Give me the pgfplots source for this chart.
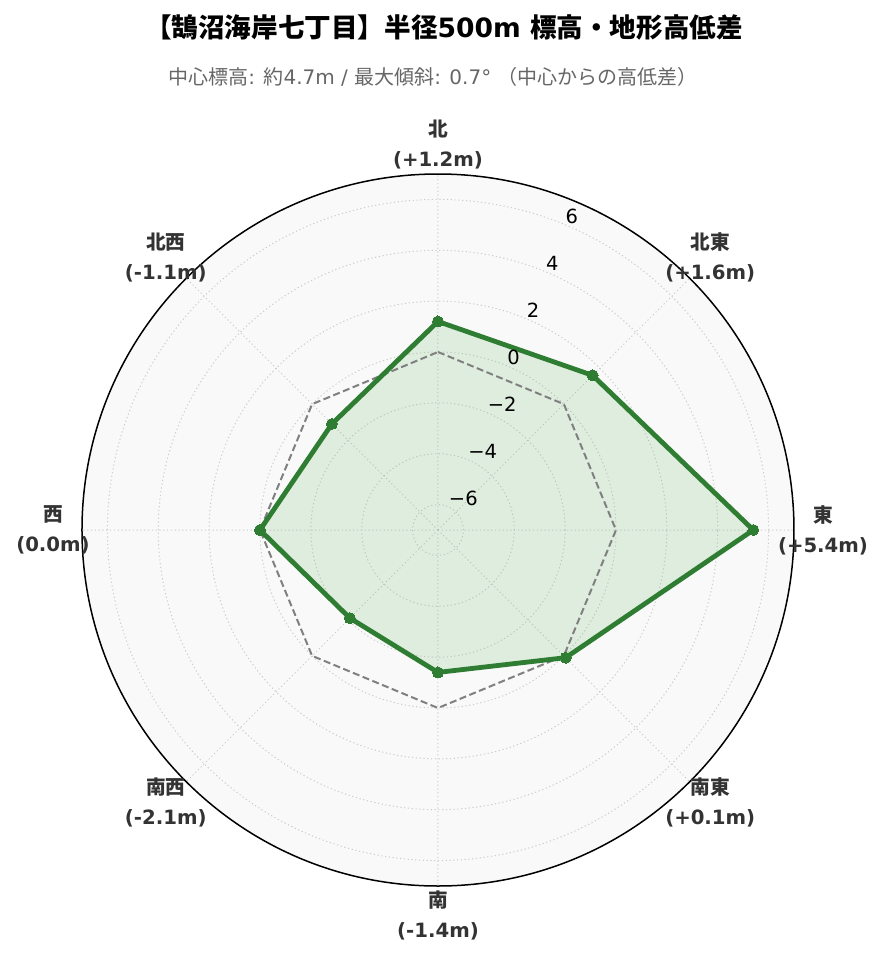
\documentclass[border=0pt]{standalone}
\usepackage{fontspec}
\setmainfont{DejaVu Sans}
\newfontfamily\cjk{Noto Sans CJK JP}
\usepackage{pgfplots}
\pgfplotsset{compat=1.18}
\usepgfplotslibrary{polar}
\definecolor{grn}{HTML}{2E7D32}
\definecolor{fillg}{HTML}{4CAF50}
\definecolor{bgc}{HTML}{F9F9F9}
\definecolor{lbl}{HTML}{333333}
\definecolor{subc}{HTML}{666666}
\definecolor{grd}{HTML}{CCCCCC}
\newcommand{\J}[1]{{\cjk #1}}
\begin{document}
\begin{tikzpicture}[x=1pt,y=1pt]
\useasboundingbox (-438,-432) rectangle (446,530);
\begin{polaraxis}[
  at={(0,0)}, anchor=center,
  scale only axis, width=712pt, height=712pt,
  ymin=-7, ymax=7,
  y coord trafo/.code={\pgfmathparse{#1+7}},
  y coord inv trafo/.code={\pgfmathparse{#1-7}},
  xtick={0,45,...,315}, ytick={-6,-4,...,6},
  xticklabels={}, yticklabels={},
  major tick length=0pt,
  grid=major,
  major grid style={grd, line width=1pt, dash pattern=on 1.2pt off 2.6pt},
  separate axis lines,
  x axis line style={black, line width=1.5pt},
  y axis line style={draw=none},
  axis background/.style={fill=bgc},
  clip=false,
]
\addplot[draw=none, fill=fillg, fill opacity=0.15] coordinates {
  (90,1.2) (45,1.6) (0,5.4) (315,0.1) (270,-1.4) (225,-2.1) (180,0.0) (135,-1.1) (90,1.2)};
\addplot[color=gray, line width=2pt, dash pattern=on 7pt off 3.5pt] coordinates {
  (90,0) (45,0) (0,0) (315,0) (270,0) (225,0) (180,0) (135,0) (90,0)};
\addplot[color=grn, line width=4.8pt, line join=round, mark=*, mark size=5.5pt, mark options={fill=grn, draw=grn, line width=0pt}] coordinates {
  (90,1.2) (45,1.6) (0,5.4) (315,0.1) (270,-1.4) (225,-2.1) (180,0.0) (135,-1.1) (90,1.2)};
% radial tick labels
\foreach \v/\t in {-6/−6,-4/−4,-2/−2,0/0,2/2,4/4,6/6}{
  \edef\tmp{\noexpand\node[anchor=south west, inner sep=1pt, font=\noexpand\fontsize{19.5}{22}\noexpand\selectfont] at (axis cs:67.5,\v) {\t};}\tmp
}
% angular labels
\tikzset{albl/.style={align=center, text=lbl, inner sep=0pt, font=\fontsize{19.7}{30}\selectfont\bfseries}}
\node[albl] at (axis cs:90,8.14) {\J{北}\\(+1.2m)};
\node[albl] at (axis cs:45,8.14) {\J{北東}\\(+1.6m)};
\node[albl] at (axis cs:0,8.14) {\J{東}\\(+5.4m)};
\node[albl] at (axis cs:315,8.14) {\J{南東}\\(+0.1m)};
\node[albl] at (axis cs:270,8.14) {\J{南}\\(-1.4m)};
\node[albl] at (axis cs:225,8.14) {\J{南西}\\(-2.1m)};
\node[albl] at (axis cs:180,8.14) {\J{西}\\(0.0m)};
\node[albl] at (axis cs:135,8.14) {\J{北西}\\(-1.1m)};
\end{polaraxis}
\node[font=\fontsize{26.6}{30}\selectfont\bfseries] at (6,503) {\J{【鵠沼海岸七丁目】半径}500m \J{標高・地形高低差}};
\node[text=subc, font=\fontsize{20}{24}\selectfont] at (-5,453) {\J{中心標高}: \J{約}4.7m / \J{最大傾斜}: 0.7° \J{（中心からの高低差）}};
\end{tikzpicture}
\end{document}
